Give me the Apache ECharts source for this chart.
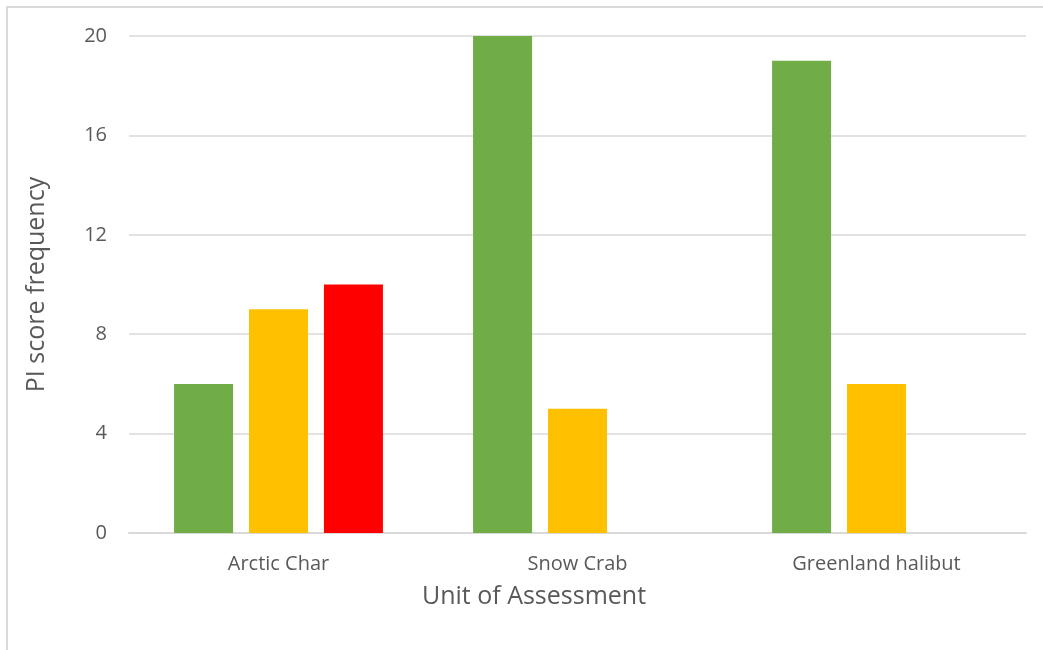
<!DOCTYPE html>
<html>
<head>
<meta charset="utf-8">
<script src="https://cdn.jsdelivr.net/npm/echarts@6/dist/echarts.min.js"></script>
<style>
  html, body { margin: 0; padding: 0; background: #fff; }
  #chartWrap { width: 1043px; height: 650px; }
</style>
</head>
<body>
<div id="chartWrap"></div>
<script>
// unit of assessment categories
const categories = ['Arctic Char', 'Snow Crab', 'Greenland halibut'];
// PI score frequency per score band
const greenScores = [6, 20, 19];
const yellowScores = [9, 5, 6];
const redScores = [10, 0, 0];
const yTicks = { min: 0, max: 20, interval: 4 };

const textColor = '#595959';
const font = '"Open Sans", "Liberation Sans", sans-serif';

const chart = echarts.init(document.getElementById('chartWrap'));

const bar = (name, data, color) => ({
  name: name,
  type: 'bar',
  data: data,
  barWidth: 59,
  barGap: '27%',
  itemStyle: { color: color },
  emphasis: { disabled: true }
});

chart.setOption({
  animation: false,
  textStyle: { fontFamily: font },
  grid: { left: 129, right: 17, top: 36, bottom: 117 },
  // x axis title sits centred on the chart box, not the plot
  title: {
    text: 'Unit of Assessment',
    left: 534,
    textAlign: 'center',
    top: 584,
    padding: 0,
    textStyle: { color: textColor, fontSize: 25, fontWeight: 'normal', fontFamily: font }
  },
  graphic: [{
    type: 'rect',
    shape: { x: 7, y: 7, width: 1100, height: 700 },
    style: { fill: 'none', stroke: '#d9d9d9', lineWidth: 2 },
    silent: true
  }],
  xAxis: {
    type: 'category',
    data: categories,
    axisTick: { show: false },
    axisLine: { lineStyle: { color: '#d9d9d9', width: 2 } },
    axisLabel: { color: textColor, fontSize: 20, margin: 21, fontFamily: font }
  },
  yAxis: {
    type: 'value',
    min: yTicks.min,
    max: yTicks.max,
    interval: yTicks.interval,
    axisLine: { show: false },
    axisTick: { show: false },
    splitLine: { lineStyle: { color: '#d9d9d9', width: 1.5 } },
    axisLabel: { color: textColor, fontSize: 20, margin: 22, fontFamily: font },
    name: 'PI score frequency',
    nameLocation: 'middle',
    nameGap: 80,
    nameRotate: 90,
    nameTextStyle: { color: textColor, fontSize: 25, fontFamily: font }
  },
  series: [
    bar('Green', greenScores, '#70ad47'),
    bar('Yellow', yellowScores, '#ffc000'),
    bar('Red', redScores, '#ff0000')
  ]
});
</script>
</body>
</html>
